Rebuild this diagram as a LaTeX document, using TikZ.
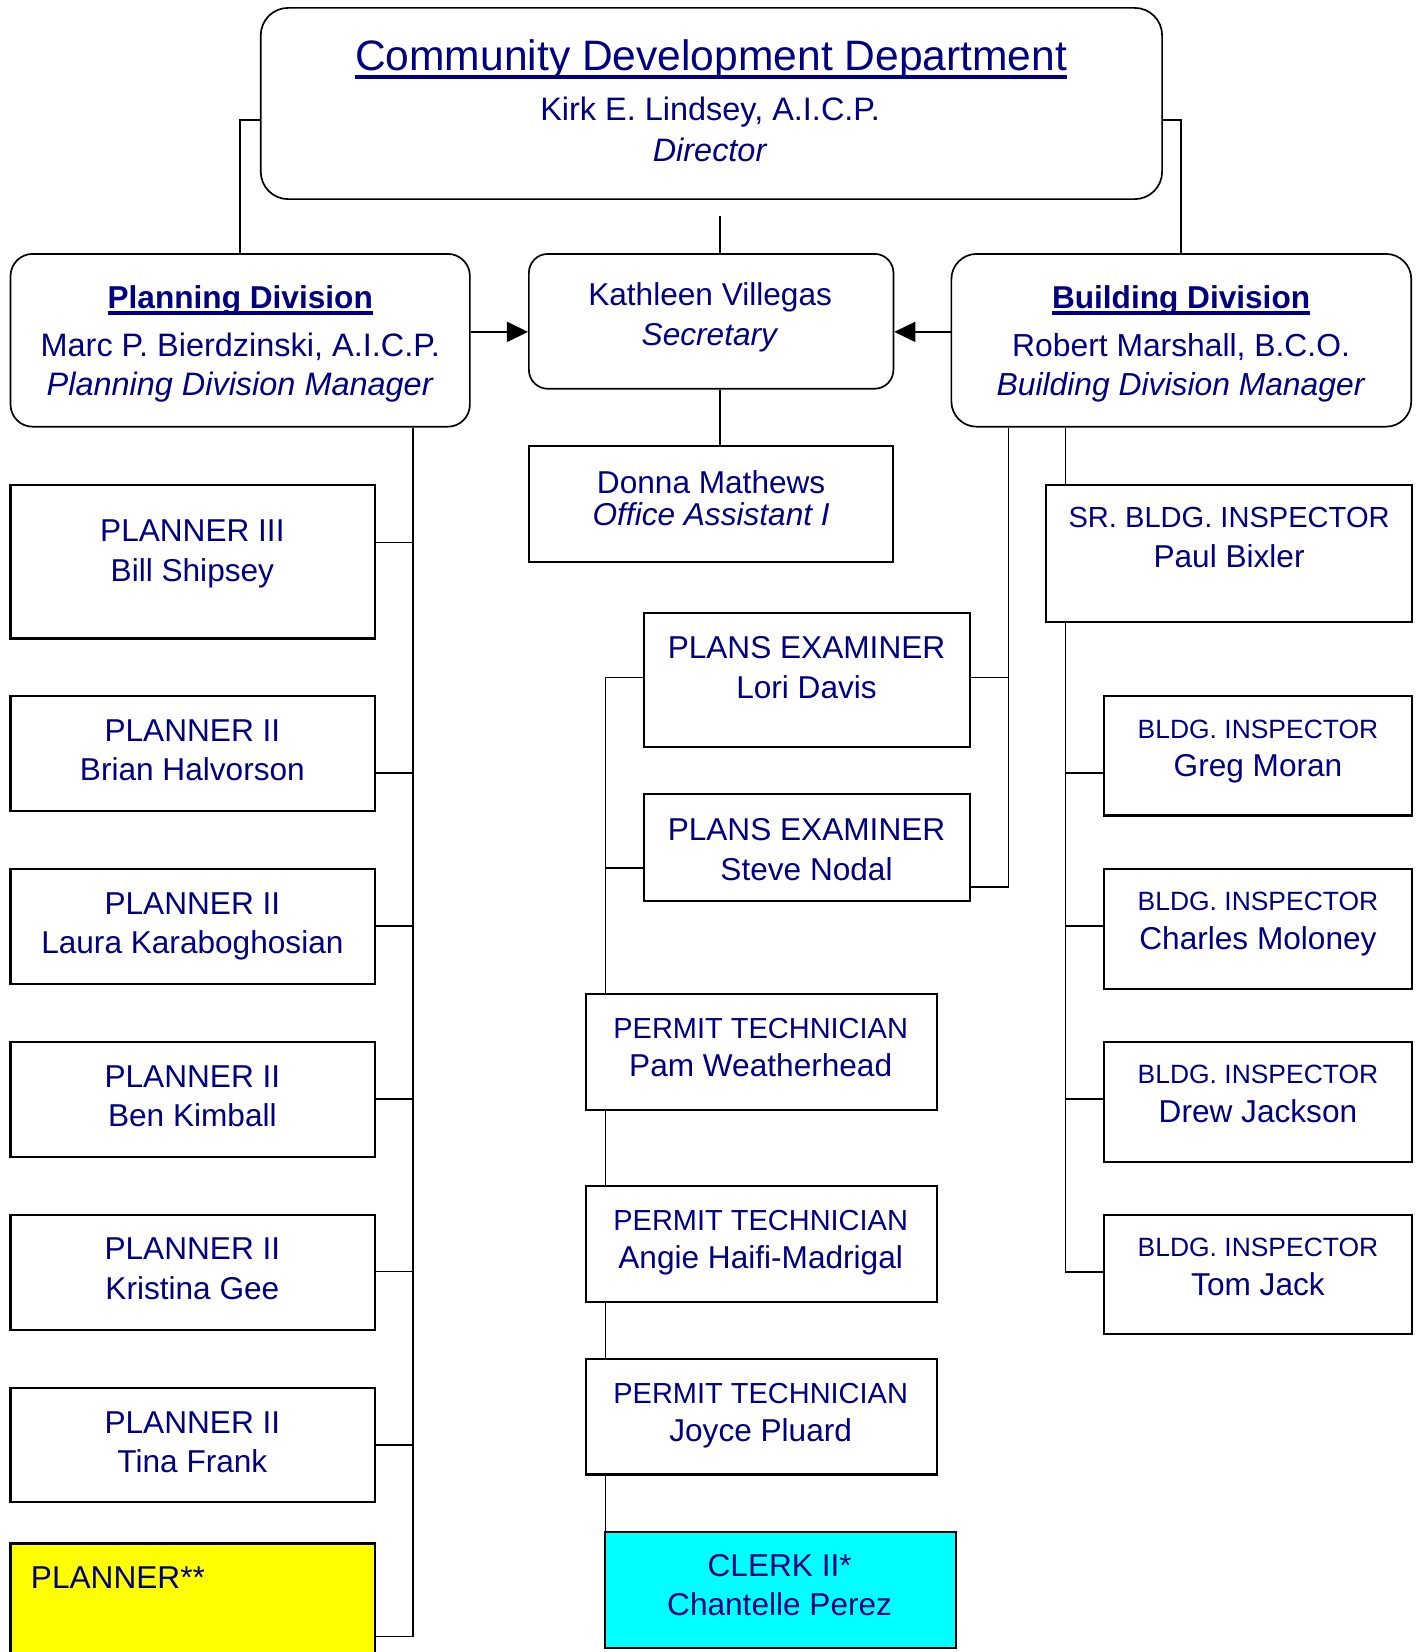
\documentclass[tikz,border=0pt]{standalone}
\usepackage{fontspec}
\setmainfont{Liberation Sans}
\usetikzlibrary{fit,arrows.meta}
\definecolor{navy}{RGB}{0,0,128}
\definecolor{ylw}{RGB}{255,255,0}
\definecolor{cyn}{RGB}{0,255,255}
\newcommand\ulx[3]{\setbox0\hbox{#3}\rlap{\vrule width\wd0 height -#1 depth #2}\box0}
\newcommand\fs[2]{\fontsize{#1}{#2}\selectfont}
\pgfdeclarelayer{bg}
\pgfsetlayers{bg,main}
\begin{document}
\begin{tikzpicture}[x=0.5pt,y=-0.5pt,
  rbox/.style={draw=black, line width=0.8pt, fill=white, inner sep=0pt, rounded corners=#1},
  sbox/.style={draw=black, line width=1pt, fill=white, inner sep=0pt, rectangle},
  conn/.style={draw=black, line width=0.7pt},
  arr/.style={draw=black, line width=0.8pt, -{Triangle[length=10pt,width=9.5pt]}},
  txt/.style={text=navy, align=center, anchor=base, inner sep=0pt}]
\useasboundingbox (0,0) rectangle (1346,1568);
\clip (0,0) rectangle (1346,1568);

% ---- top level (multi-line text nodes are placed at the baseline of their last line)
\node[rbox=13pt, fit={(247.5,7.5) (1103,189)}] (top) {};
\node[txt, font=\fs{20.2pt}{24pt}] (ttl) at (675,67) {\ulx{2.05pt}{3.8pt}{Community Development Department}};
\node[txt, font=\fs{15.4pt}{19.5pt}] (dir) at (674,153) {Kirk E. Lindsey, A.I.C.P.\\\textit{Director}};

% ---- divisions
\node[rbox=10.5pt, fit={(10,241) (446,405)}] (plan) {};
\node[txt, font=\fs{15pt}{19pt}\bfseries] (plh) at (228,293) {\ulx{1.25pt}{3.15pt}{Planning Division}};
\node[txt, font=\fs{15.4pt}{18.5pt}] (plm) at (228,375) {Marc P. Bierdzinski, A.I.C.P.\\\textit{Planning Division Manager}};

\node[rbox=9pt, fit={(502,241) (848,369)}] (sec) {};
\node[txt, font=\fs{15pt}{18.75pt}] (sect) at (674,327.5) {Kathleen Villegas\\\textit{Secretary}};

\node[rbox=12pt, fit={(903,241) (1339.5,405)}] (bld) {};
\node[txt, font=\fs{15pt}{19pt}\bfseries] (bdh) at (1121,293) {\ulx{1.25pt}{3.15pt}{Building Division}};
\node[txt, font=\fs{15.1pt}{18.5pt}] (bdm) at (1121,375) {Robert Marshall, B.C.O.\\\textit{Building Division Manager}};

\node[sbox, fit={(502,423) (848,533)}] (don) {};
\node[txt, font=\fs{15pt}{15.5pt}] (dont) at (675,499) {Donna Mathews\\\textit{Office Assistant I}};

% ---- planners
\node[sbox, fit={(10,460) (356,606)}] (pl3) {};
\node[txt, font=\fs{15pt}{19pt}] (pl3t) at (182.6,552) {PLANNER III\\Bill Shipsey};
\node[sbox, fit={(10,661) (356,770)}] (pla) {};
\node[txt, font=\fs{15pt}{18.6pt}] (plat) at (182.6,741) {PLANNER II\\Brian Halvorson};
\node[sbox, fit={(10,825) (356,934)}] (plb) {};
\node[txt, font=\fs{15pt}{18.6pt}] (plbt) at (182.6,905) {PLANNER II\\Laura Karaboghosian};
\node[sbox, fit={(10,989) (356,1098)}] (plc) {};
\node[txt, font=\fs{15pt}{18.6pt}] (plct) at (182.6,1069) {PLANNER II\\Ben Kimball};
\node[sbox, fit={(10,1153) (356,1262)}] (pld) {};
\node[txt, font=\fs{15pt}{18.6pt}] (pldt) at (182.6,1233) {PLANNER II\\Kristina Gee};
\node[sbox, fit={(10,1317) (356,1426)}] (ple) {};
\node[txt, font=\fs{15pt}{18.6pt}] (plet) at (182.6,1397.5) {PLANNER II\\Tina Frank};
\node[sbox, fill=ylw, fit={(10,1465) (356,1640)}] (plx) {};
\node[txt, anchor=base west, font=\fs{15pt}{18.6pt}] (plxt) at (29,1508) {PLANNER**};

% ---- building side
\node[sbox, fit={(993,460) (1340,590)}] (sr) {};
\node[txt, font=\fs{15pt}{19pt}] (srt) at (1166.6,539) {{\fs{13.8pt}{19pt}SR. BLDG. INSPECTOR}\\Paul Bixler};
\node[sbox, fit={(1048,661) (1340,774)}] (greg) {};
\node[txt, font=\fs{15pt}{18.25pt}] (gregt) at (1194,737) {{\fs{12.55pt}{18pt}BLDG. INSPECTOR}\\Greg Moran};
\node[sbox, fit={(1048,825) (1340,938.5)}] (cha) {};
\node[txt, font=\fs{15pt}{18.25pt}] (chat) at (1194,901) {{\fs{12.55pt}{18pt}BLDG. INSPECTOR}\\Charles Moloney};
\node[sbox, fit={(1048,989) (1340,1102.5)}] (drew) {};
\node[txt, font=\fs{15pt}{18.25pt}] (drewt) at (1194,1065) {{\fs{12.55pt}{18pt}BLDG. INSPECTOR}\\Drew Jackson};
\node[sbox, fit={(1048,1153) (1340,1266.5)}] (tom) {};
\node[txt, font=\fs{15pt}{18.25pt}] (tomt) at (1194,1229.5) {{\fs{12.55pt}{18pt}BLDG. INSPECTOR}\\Tom Jack};

% ---- plans examiners
\node[sbox, fit={(611,581.5) (920.5,709)}] (lor) {};
\node[txt, font=\fs{15pt}{19pt}] (lort) at (765.5,663) {PLANS EXAMINER\\Lori Davis};
\node[sbox, fit={(611,754) (920.5,855)}] (ste) {};
\node[txt, font=\fs{15pt}{19pt}] (stet) at (765.5,836) {PLANS EXAMINER\\Steve Nodal};

% ---- permit technicians
\node[sbox, fit={(556,943.5) (889,1053.5)}] (pam) {};
\node[txt, font=\fs{15pt}{18.25pt}] (pamt) at (722,1022) {{\fs{13.75pt}{18pt}PERMIT TECHNICIAN}\\Pam Weatherhead};
\node[sbox, fit={(556,1126) (889,1236)}] (ang) {};
\node[txt, font=\fs{15pt}{18.25pt}] (angt) at (722,1204) {{\fs{13.75pt}{18pt}PERMIT TECHNICIAN}\\Angie Haifi-Madrigal};
\node[sbox, fit={(556,1290) (889,1399.5)}] (joy) {};
\node[txt, font=\fs{15pt}{18.25pt}] (joyt) at (722,1368.5) {{\fs{13.75pt}{18pt}PERMIT TECHNICIAN}\\Joyce Pluard};
\node[sbox, fill=cyn, fit={(574.5,1454) (907,1564)}] (clk) {};
\node[txt, font=\fs{15pt}{18.25pt}] (clkt) at (740,1533) {CLERK II*\\Chantelle Perez};

% ---- connectors
\coordinate (lx) at (228,114);
\coordinate (rx) at (1121,114);
\coordinate (cstub) at (683.5,205);
\coordinate (pbus) at (392,1553.5);
\coordinate (bb1) at (957,842);
\coordinate (bb2) at (1011.5,1207.5);
\coordinate (bb3) at (574.5,643);
\coordinate (ay) at (0,315);
\begin{pgfonlayer}{bg}
\draw[conn] (top.west |- lx) -| (plan.north -| lx);
\draw[conn] (top.east |- rx) -| (bld.north -| rx);
\draw[conn] (cstub) -- (sec.north -| cstub);
\draw[conn] (sec.south -| cstub) -- (don.north -| cstub);
\draw[arr] (plan.east |- ay) -- (sec.west |- ay);
\draw[arr] (bld.west |- ay) -- (sec.east |- ay);
% planning bus
\draw[conn] (plan.south -| pbus) -- (pbus) -- (plx.east |- pbus);
\draw[conn] (pl3.east |- 0,515) -- (pbus |- 0,515);
\draw[conn] (pla.east |- 0,733.5) -- (pbus |- 0,733.5);
\draw[conn] (plb.east |- 0,879) -- (pbus |- 0,879);
\draw[conn] (plc.east |- 0,1043) -- (pbus |- 0,1043);
\draw[conn] (pld.east |- 0,1207) -- (pbus |- 0,1207);
\draw[conn] (ple.east |- 0,1371.5) -- (pbus |- 0,1371.5);
% building buses
\draw[conn] (bld.south -| bb1) -- (bb1) -- (ste.east |- bb1);
\draw[conn] (lor.east |- bb3) -- (bb1 |- bb3);
\draw[conn] (bld.south -| bb2) -- (bb2) -- (tom.west |- bb2);
\draw[conn] (greg.west |- 0,733.5) -- (bb2 |- 0,733.5);
\draw[conn] (cha.west |- 0,879) -- (bb2 |- 0,879);
\draw[conn] (drew.west |- 0,1043) -- (bb2 |- 0,1043);
% permit bus
\draw[conn] (lor.west |- bb3) -- (bb3) -- (clk.north -| bb3);
\draw[conn] (ste.west |- 0,824) -- (bb3 |- 0,824);
\end{pgfonlayer}
\end{tikzpicture}
\end{document}
